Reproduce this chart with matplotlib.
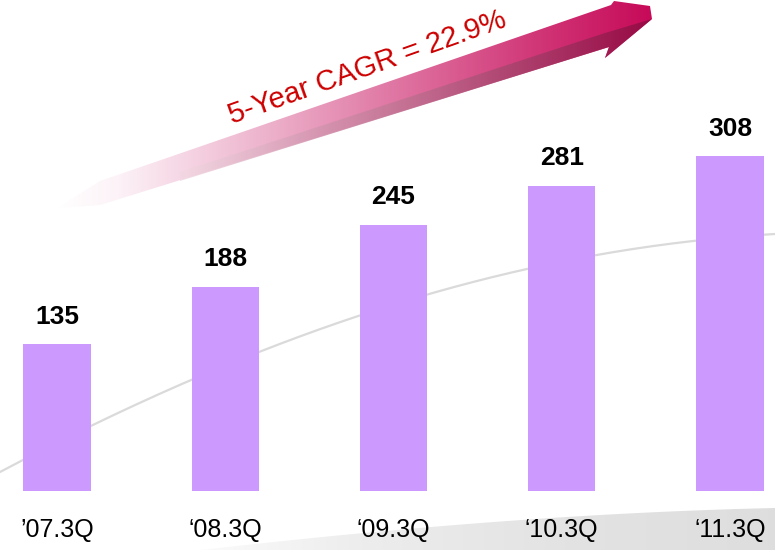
import numpy as np
import matplotlib
matplotlib.use("Agg")
import matplotlib.pyplot as plt
from matplotlib.patches import Polygon
from matplotlib.colors import LinearSegmentedColormap

# ---- data ----
categories = ["\u201907.3Q", "\u201808.3Q", "\u201809.3Q", "\u201810.3Q", "\u201811.3Q"]
values = [135, 188, 245, 281, 308]
cagr_text = "5-Year CAGR = 22.9%"

W, H = 775, 550
fig = plt.figure(figsize=(W / 100, H / 100), dpi=100)
fig.patch.set_facecolor("white")


def bezier(P, n=200):
    P = np.asarray(P, dtype=float)
    t = np.linspace(0, 1, n)[:, None]
    return ((1 - t) ** 3) * P[0] + 3 * ((1 - t) ** 2) * t * P[1] + 3 * (1 - t) * t ** 2 * P[2] + t ** 3 * P[3]


# ---- decoration layer (pixel coords, y down) ----
deco = fig.add_axes([0, 0, 1, 1], zorder=0)
deco.set_xlim(0, W)
deco.set_ylim(H, 0)
deco.axis("off")

# grey swoosh line
sw = bezier([[0, 472], [250, 340], [500, 250], [775, 234]])
deco.plot(sw[:, 0], sw[:, 1], color="#dadada", lw=1.6, solid_capstyle="round")

# grey band at bottom
bd = bezier([[150, 556], [400, 526], [600, 512], [775, 508]])
band_pts = np.vstack([bd, [[775, 556], [150, 556]]])
band = Polygon(band_pts, closed=True, facecolor="none", edgecolor="none")
deco.add_patch(band)
grad = np.linspace(0, 1, 256).reshape(1, -1)
band_cmap = LinearSegmentedColormap.from_list(
    "band", [(1, 1, 1), (0.93, 0.93, 0.93), (0.89, 0.89, 0.89), (0.87, 0.87, 0.87)])
im = deco.imshow(grad, extent=[150, 775, 556, 500], cmap=band_cmap, aspect="auto", zorder=1)
im.set_clip_path(band)

# arrow body with gradient
arrow_pts = [(58, 208), (100, 181), (611, 5), (614, 1), (650, 6), (652, 19),
             (605, 58), (609, 47), (100, 205)]
arrow = Polygon(arrow_pts, closed=True, facecolor="none", edgecolor="none")
deco.add_patch(arrow)
arrow_cmap = LinearSegmentedColormap.from_list(
    "arr", [(0.0, (1, 1, 1)), (0.10, (0.99, 0.95, 0.97)), (0.35, (0.93, 0.70, 0.80)),
            (0.55, (0.88, 0.48, 0.65)), (0.8, (0.82, 0.22, 0.47)), (1.0, (0.78, 0.04, 0.35))])
im2 = deco.imshow(grad, extent=[58, 652, 215, 0], cmap=arrow_cmap, aspect="auto", zorder=2)
im2.set_clip_path(arrow)

# darker lower side of the shaft and head
side_pts = [(180, 172), (605, 33), (652, 19), (605, 58), (609, 47), (180, 181)]
side = Polygon(side_pts, closed=True, facecolor="none", edgecolor="none")
deco.add_patch(side)
side_cmap = LinearSegmentedColormap.from_list(
    "side", [(0.0, (0.95, 0.85, 0.89)), (0.3, (0.82, 0.58, 0.68)),
             (0.7, (0.65, 0.27, 0.43)), (1.0, (0.55, 0.04, 0.25))])
im3 = deco.imshow(grad, extent=[180, 652, 185, 15], cmap=side_cmap, aspect="auto",
                  zorder=3, alpha=0.8)
im3.set_clip_path(side)

deco.text(232, 124, cagr_text, rotation=19.5, rotation_mode="anchor",
          ha="left", va="baseline", fontsize=21, color="#cc0000",
          family=["Liberation Sans", "DejaVu Sans"], zorder=5)

# ---- bar chart layer ----
ax = fig.add_axes([0, 0, 1, 1], zorder=2)
ax.patch.set_alpha(0)
x = np.arange(len(categories))
ax.set_xlim(-0.339, 4.268)
ax.set_ylim(-54.3, 451.7)
ax.bar(x, values, width=0.40, color="#cc99ff", edgecolor="none")
font = ["Liberation Sans", "DejaVu Sans"]
for xi, v in zip(x, values):
    ax.annotate(str(v), (xi, v), xytext=(0, 11), textcoords="offset points",
                ha="center", va="bottom", fontsize=19, fontweight="bold", family=font)
for xi, c in zip(x, categories):
    ax.text(xi, -36, c, ha="center", va="center", fontsize=18, family=font)
ax.axis("off")

fig.savefig("out.png", dpi=100, facecolor="white")
